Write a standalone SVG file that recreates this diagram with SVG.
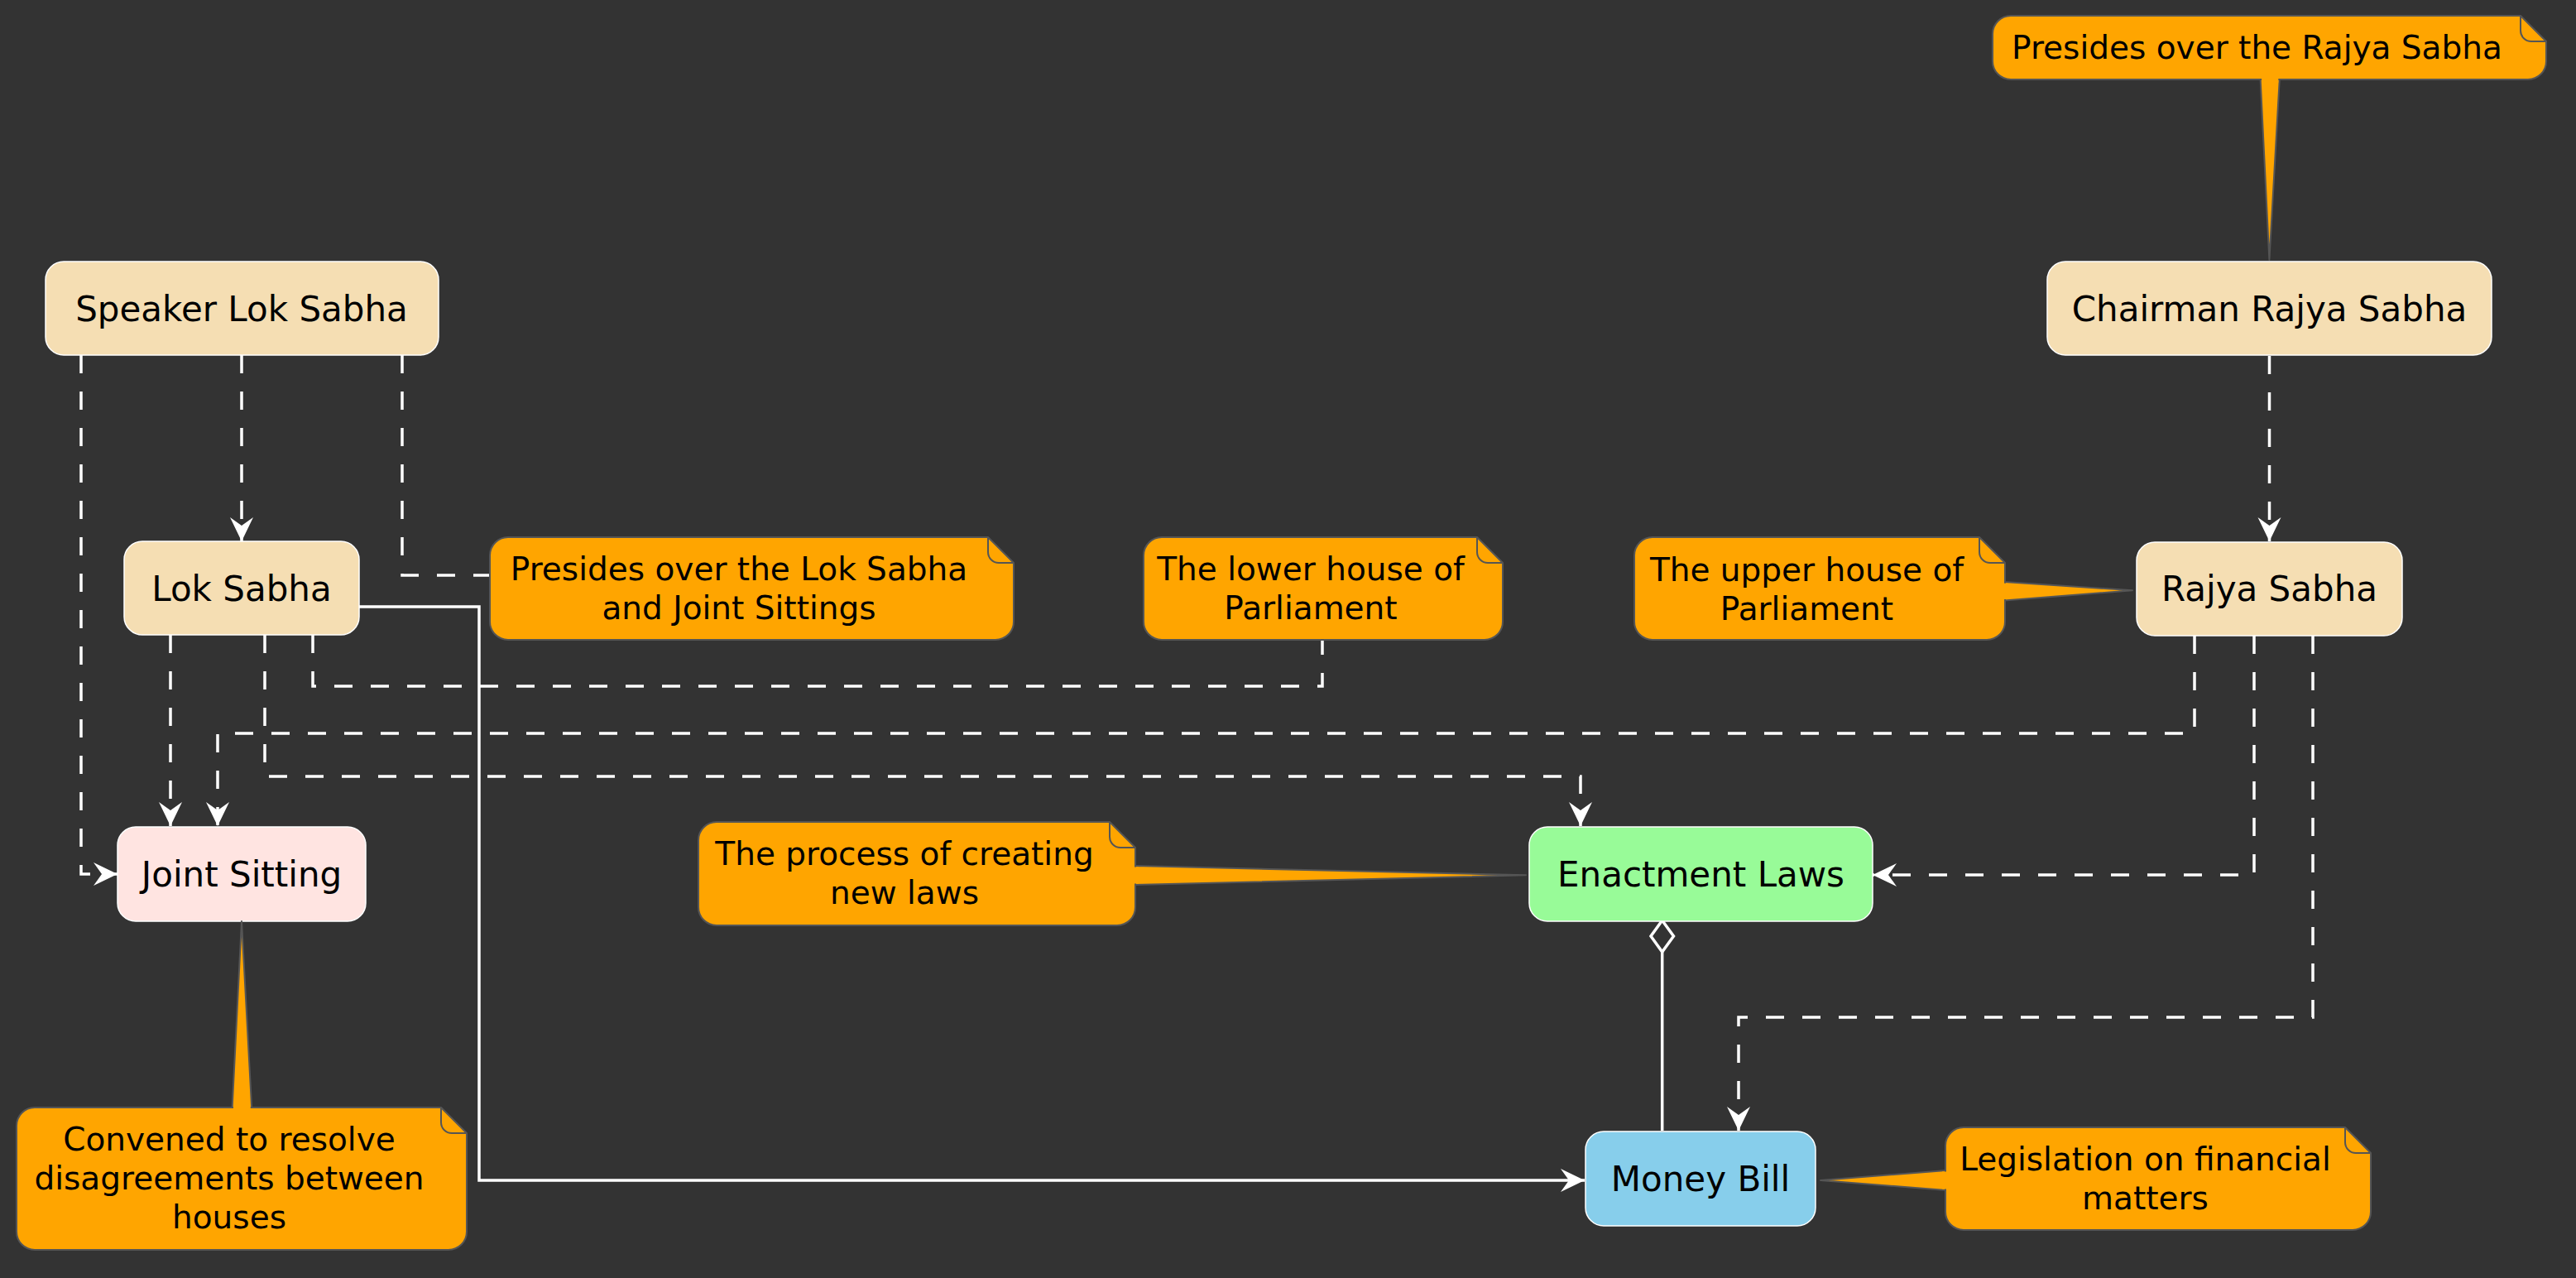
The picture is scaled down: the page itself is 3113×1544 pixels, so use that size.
<svg xmlns="http://www.w3.org/2000/svg" width="3113" height="1544" viewBox="0 0 3113 1544">
<defs>
<style>
.node{stroke:#ffffff;stroke-width:1.5}
.wheat{fill:#F5DEB3}
.ntxt{font-family:"DejaVu Sans","Liberation Sans",sans-serif;font-size:42px;fill:#000;text-anchor:middle}
.note{fill:#FFA500;stroke:#555555;stroke-width:2;stroke-linejoin:round}
.fold{fill:none;stroke:#555555;stroke-width:2}
.ttxt{font-family:"DejaVu Sans","Liberation Sans",sans-serif;font-size:39px;fill:#000;text-anchor:middle}
.dash{fill:none;stroke:#ffffff;stroke-width:3.5;stroke-dasharray:22,22}
.solid{fill:none;stroke:#ffffff;stroke-width:3.5}
</style>
<marker id="arr" markerUnits="userSpaceOnUse" markerWidth="34" markerHeight="32" refX="31" refY="16" orient="auto">
<path d="M31,16 L2,2 L12,16 L2,30 Z" fill="#ffffff"/>
</marker>
</defs>
<rect x="0" y="0" width="3113" height="1544" fill="#333333"/>

<g id="connectors">
<path class="dash" d="M292,429 V654" marker-end="url(#arr)"/>
<path class="dash" d="M98,429 V1056 H142" marker-end="url(#arr)"/>
<path class="dash" d="M486,429 V695 H592"/>
<path class="dash" d="M206,767 V998" marker-end="url(#arr)"/>
<path class="dash" d="M320,767 V938 H1910 V998" marker-end="url(#arr)"/>
<path class="dash" d="M378,767 V829 H1598 V773"/>
<path class="solid" d="M434,733 H579 V1426 H1915" marker-end="url(#arr)"/>
<path class="dash" d="M2652,768 V886 H263 V998" marker-end="url(#arr)"/>
<path class="dash" d="M2724,768 V1057 H2263" marker-end="url(#arr)"/>
<path class="dash" d="M2795,768 V1229 H2101 V1366" marker-end="url(#arr)"/>
<path class="dash" d="M2742.5,430 V654" marker-end="url(#arr)"/>
<path class="solid" d="M2008.7,1150 V1366"/>
<polygon points="2008.7,1112 2022.5,1131 2008.7,1150 1995,1131" fill="#333333" stroke="#ffffff" stroke-width="3.5"/>
</g>

<g id="speaker">
<rect class="node wheat" x="55" y="316" width="475" height="113" rx="22"/>
<text class="ntxt" x="292" y="388">Speaker Lok Sabha</text>
</g>
<g id="loksabha">
<rect class="node wheat" x="150" y="654" width="284" height="113" rx="22"/>
<text class="ntxt" x="292" y="726">Lok Sabha</text>
</g>
<g id="joint">
<rect class="node" fill="#FFE4E1" x="142" y="999" width="300" height="114" rx="22"/>
<text class="ntxt" x="292" y="1071">Joint Sitting</text>
</g>
<g id="chairman">
<rect class="node wheat" x="2474" y="316" width="537" height="113" rx="22"/>
<text class="ntxt" x="2742.5" y="388">Chairman Rajya Sabha</text>
</g>
<g id="rajyasabha">
<rect class="node wheat" x="2582" y="655" width="321" height="113" rx="22"/>
<text class="ntxt" x="2742.5" y="726">Rajya Sabha</text>
</g>
<g id="enactment">
<rect class="node" fill="#98FB98" x="1848" y="999" width="415" height="114" rx="22"/>
<text class="ntxt" x="2055.5" y="1071">Enactment Laws</text>
</g>
<g id="moneybill">
<rect class="node" fill="#87CEEB" x="1916" y="1367" width="278" height="114" rx="22"/>
<text class="ntxt" x="2055" y="1439">Money Bill</text>
</g>

<g id="note-speaker">
<path class="note" d="M614,649 H1194 L1225,680 V751 A22,22 0 0 1 1203,773 H614 A22,22 0 0 1 592,751 V671 A22,22 0 0 1 614,649 Z"/>
<path class="fold" d="M1194,649 V667 A13,13 0 0 0 1207,680 H1225"/>
<text class="ttxt" x="893" y="701">Presides over the Lok Sabha</text>
<text class="ttxt" x="893" y="748">and Joint Sittings</text>
</g>
<g id="note-lower">
<path class="note" d="M1404,649 H1785 L1816,680 V751 A22,22 0 0 1 1794,773 H1404 A22,22 0 0 1 1382,751 V671 A22,22 0 0 1 1404,649 Z"/>
<path class="fold" d="M1785,649 V667 A13,13 0 0 0 1798,680 H1816"/>
<text class="ttxt" x="1584" y="701">The lower house of</text>
<text class="ttxt" x="1584" y="748">Parliament</text>
</g>
<g id="note-upper">
<path class="note" d="M2422,703 L2577,713.3 L2422,725.5 Z" stroke-linejoin="miter"/>
<path class="note" d="M1997,649 H2392 L2423,680 V751 A22,22 0 0 1 2401,773 H1997 A22,22 0 0 1 1975,751 V671 A22,22 0 0 1 1997,649 Z"/>
<path d="M2418,704.5 L2426,704.8 L2426,724 L2418,724 Z" fill="#FFA500"/>
<path class="fold" d="M2392,649 V667 A13,13 0 0 0 2405,680 H2423"/>
<text class="ttxt" x="2183.5" y="701.5">The upper house of</text>
<text class="ttxt" x="2183.5" y="748.5">Parliament</text>
</g>
<g id="note-chairman">
<path class="note" d="M2731.6,95 L2742.4,314 L2754.8,95 Z" stroke-linejoin="miter"/>
<path class="note" d="M2430,19 H3046 L3077,50 V74 A22,22 0 0 1 3055,96 H2430 A22,22 0 0 1 2408,74 V41 A22,22 0 0 1 2430,19 Z"/>
<path d="M2733,92 L2753.4,92 L2753.2,100 L2733.2,100 Z" fill="#FFA500"/>
<path class="fold" d="M3046,19 V37 A13,13 0 0 0 3059,50 H3077"/>
<text class="ttxt" x="2727.5" y="71">Presides over the Rajya Sabha</text>
</g>
<g id="note-process">
<path class="note" d="M1371,1046 L1844,1057.3 L1371,1069 Z" stroke-linejoin="miter"/>
<path class="note" d="M866,993 H1341 L1372,1024 V1096 A22,22 0 0 1 1350,1118 H866 A22,22 0 0 1 844,1096 V1015 A22,22 0 0 1 866,993 Z"/>
<path d="M1367,1047.5 L1376,1047.5 L1376,1067.5 L1367,1067.5 Z" fill="#FFA500"/>
<path class="fold" d="M1341,993 V1011 A13,13 0 0 0 1354,1024 H1372"/>
<text class="ttxt" x="1093" y="1045">The process of creating</text>
<text class="ttxt" x="1093" y="1092">new laws</text>
</g>
<g id="note-joint">
<path class="note" d="M280.6,1339 L292,1113 L304.2,1339 Z" stroke-linejoin="miter"/>
<path class="note" d="M42,1338 H533 L564,1369 V1488 A22,22 0 0 1 542,1510 H42 A22,22 0 0 1 20,1488 V1360 A22,22 0 0 1 42,1338 Z"/>
<path d="M282,1334 L302.8,1334 L302.8,1342 L282,1342 Z" fill="#FFA500"/>
<path class="fold" d="M533,1338 V1356 A13,13 0 0 0 546,1369 H564"/>
<text class="ttxt" x="277" y="1390">Convened to resolve</text>
<text class="ttxt" x="277" y="1437">disagreements between</text>
<text class="ttxt" x="277" y="1484">houses</text>
</g>
<g id="note-legislation">
<path class="note" d="M2352,1414 L2200,1426 L2352,1438 Z" stroke-linejoin="miter"/>
<path class="note" d="M2373,1362 H2834 L2865,1393 V1464 A22,22 0 0 1 2843,1486 H2373 A22,22 0 0 1 2351,1464 V1384 A22,22 0 0 1 2373,1362 Z"/>
<path d="M2347,1415.5 L2356,1415.5 L2356,1436.5 L2347,1436.5 Z" fill="#FFA500"/>
<path class="fold" d="M2834,1362 V1380 A13,13 0 0 0 2847,1393 H2865"/>
<text class="ttxt" x="2592.5" y="1414">Legislation on financial</text>
<text class="ttxt" x="2592.5" y="1461">matters</text>
</g>
</svg>
